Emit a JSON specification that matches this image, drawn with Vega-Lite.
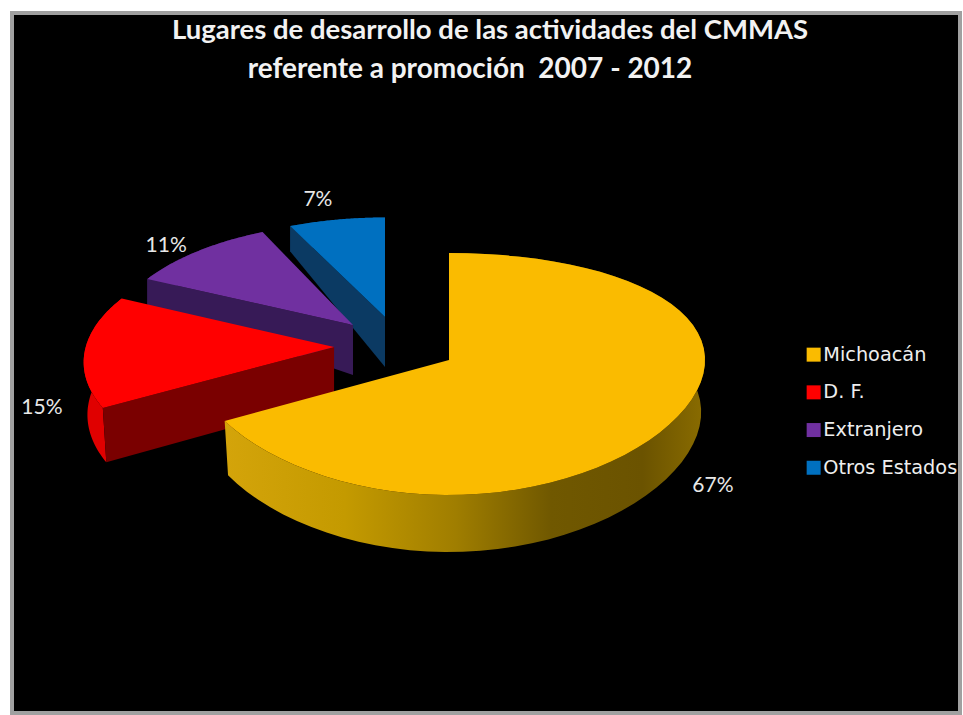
{
  "$schema": "https://vega.github.io/schema/vega-lite/v6.json",
  "autosize": "none",
  "width": 948,
  "height": 700,
  "padding": {"left": 12, "top": 13, "right": 3, "bottom": 2},
  "background": "#ffffff",
  "view": {"fill": "#000000", "stroke": "#a0a0a0", "strokeWidth": 4},
  "title": {
    "text": "Lugares de desarrollo de las actividades del CMMAS",
    "color": "#f2f2f2",
    "font": "Lato",
    "fontWeight": "bold",
    "fontSize": 27.5,
    "anchor": "middle",
    "frame": "group",
    "dx": 4,
    "offset": -31
  },
  "data": {
    "values": [
      {"lugar": "Otros Estados", "pct": 7},
      {"lugar": "Extranjero", "pct": 11},
      {"lugar": "D. F.", "pct": 15},
      {"lugar": "Michoacán", "pct": 67}
    ]
  },
  "transform": [
    {"stack": "pct", "sort": [{"field": "pct", "order": "descending"}], "groupby": [], "as": ["ini", "fin"]},
    {"calculate": "{'Michoacán':0,'D. F.':-0.449,'Extranjero':-0.375,'Otros Estados':-0.25}[datum.lugar]", "as": "ax"},
    {"calculate": "{'Michoacán':0,'D. F.':-0.109,'Extranjero':-0.293,'Otros Estados':-0.36}[datum.lugar]", "as": "ay"},
    {"calculate": "{'Michoacán':1,'D. F.':0.97,'Extranjero':0.94,'Otros Estados':0.985}[datum.lugar]", "as": "sx"},
    {"calculate": "{'Michoacán':0,'D. F.':0.13,'Extranjero':0.13,'Otros Estados':0.13}[datum.lugar]", "as": "kx"},
    {"calculate": "{'Michoacán':1,'D. F.':1,'Extranjero':0.95,'Otros Estados':0.93}[datum.lugar]", "as": "sy"},
    {"calculate": "{'Michoacán':0.4355,'D. F.':0.4355,'Extranjero':0.2345,'Otros Estados':0.251}[datum.lugar]", "as": "dr"},
    {"calculate": "{'Michoacán':0.4355,'D. F.':0.4355,'Extranjero':0.419,'Otros Estados':0.419}[datum.lugar]", "as": "da"},
    {"calculate": "{'Michoacán':0.985,'D. F.':0.985,'Extranjero':1,'Otros Estados':1}[datum.lugar]", "as": "b"}
  ],
  "encoding": {
    "x": {"field": "px", "type": "quantitative", "axis": null, "scale": {"domain": [-1.707, 1.996], "nice": false, "zero": false}},
    "y": {"field": "py", "type": "quantitative", "axis": null, "scale": {"domain": [2.956, -2.906], "nice": false, "zero": false}}
  },
  "layer": [
    {
      "transform": [
        {"filter": "datum.lugar !== 'Michoacán'"},
        {"calculate": "sequence(0,122)", "as": "n"},
        {"flatten": ["n"]},
        {"calculate": "datum.n<=60 ? datum.n/60 : (121-datum.n)/60", "as": "u"},
        {"calculate": "datum.n>60 ? 1 : 0", "as": "z"},
        {"calculate": "2*PI*(datum.ini+datum.u*(datum.fin-datum.ini))/100", "as": "th"},
        {"calculate": "datum.ax+datum.sx*sin(datum.th)*(1-datum.kx*cos(datum.th))*(datum.z?datum.b:1)", "as": "px"},
        {"calculate": "datum.ay-datum.sy*cos(datum.th)/(1+0.1157*cos(datum.th))+(datum.z?datum.dr-0.042*cos(datum.th):0)", "as": "py"},
        {"calculate": "datum.lugar+' pared'", "as": "pieza"}
      ],
      "mark": {"type": "line", "filled": true, "strokeWidth": 0},
      "encoding": {
        "order": {"field": "n", "type": "quantitative"},
        "fill": {
          "field": "pieza",
          "type": "nominal",
          "legend": null,
          "scale": {
            "domain": ["D. F. pared", "Extranjero pared", "Otros Estados pared", "D. F. corte", "Extranjero corte", "Otros Estados corte"],
            "range": ["#e00000", "#371a57", "#0b3a63", "#7a0000", "#371a57", "#0b3a63"]
          }
        }
      }
    },
    {
      "transform": [
        {"filter": "datum.lugar !== 'Michoacán'"},
        {"calculate": "sequence(0,4)", "as": "n"},
        {"flatten": ["n"]},
        {"calculate": "datum.n>=2 ? 1 : 0", "as": "z"},
        {"calculate": "datum.n==0 || datum.n==3 ? 1 : 0", "as": "ap"},
        {"calculate": "2*PI*datum.ini/100", "as": "th"},
        {"calculate": "datum.ax+(datum.ap?0:datum.sx*sin(datum.th)*(1-datum.kx*cos(datum.th))*(datum.z?datum.b:1))", "as": "px"},
        {"calculate": "datum.ay+(datum.ap?0:-datum.sy*cos(datum.th)/(1+0.1157*cos(datum.th)))+(datum.z?(datum.ap?datum.da:datum.dr-0.042*cos(datum.th)):0)", "as": "py"},
        {"calculate": "datum.lugar+' corte'", "as": "pieza"}
      ],
      "mark": {"type": "line", "filled": true, "strokeWidth": 0},
      "encoding": {
        "order": {"field": "n", "type": "quantitative"},
        "fill": {
          "field": "pieza",
          "type": "nominal",
          "legend": null,
          "scale": {
            "domain": ["D. F. pared", "Extranjero pared", "Otros Estados pared", "D. F. corte", "Extranjero corte", "Otros Estados corte"],
            "range": ["#e00000", "#371a57", "#0b3a63", "#7a0000", "#371a57", "#0b3a63"]
          }
        }
      }
    },
    {
      "transform": [
        {"filter": "datum.lugar === 'Michoacán'"},
        {"calculate": "sequence(0,122)", "as": "n"},
        {"flatten": ["n"]},
        {"calculate": "datum.n<=60 ? datum.n/60 : (121-datum.n)/60", "as": "u"},
        {"calculate": "datum.n>60 ? 1 : 0", "as": "z"},
        {"calculate": "2*PI*(datum.ini+datum.u*(datum.fin-datum.ini))/100", "as": "th"},
        {"calculate": "datum.ax+datum.sx*sin(datum.th)*(1-datum.kx*cos(datum.th))*(datum.z?datum.b:1)", "as": "px"},
        {"calculate": "datum.ay-datum.sy*cos(datum.th)/(1+0.1157*cos(datum.th))+(datum.z?datum.dr-0.042*cos(datum.th):0)", "as": "py"}
      ],
      "mark": {
        "type": "line",
        "filled": true,
        "strokeWidth": 0,
        "fill": {
          "gradient": "linear",
          "x1": 0, "y1": 0, "x2": 1, "y2": 0,
          "stops": [
            {"offset": 0, "color": "#d4a40a"},
            {"offset": 0.25, "color": "#c49a00"},
            {"offset": 0.48, "color": "#a07e00"},
            {"offset": 0.68, "color": "#705800"},
            {"offset": 0.87, "color": "#6b5300"},
            {"offset": 1, "color": "#8a6c00"}
          ]
        }
      },
      "encoding": {
        "order": {"field": "n", "type": "quantitative"}
      }
    },
    {
      "transform": [
        {"calculate": "sequence(0,62)", "as": "n"},
        {"flatten": ["n"]},
        {"calculate": "(datum.n-1)/60", "as": "u"},
        {"calculate": "2*PI*(datum.ini+datum.u*(datum.fin-datum.ini))/100", "as": "th"},
        {"calculate": "datum.ax+(datum.n==0?0:datum.sx*sin(datum.th)*(1-datum.kx*cos(datum.th)))", "as": "px"},
        {"calculate": "datum.ay+(datum.n==0?0:-datum.sy*cos(datum.th)/(1+0.1157*cos(datum.th)))", "as": "py"}
      ],
      "mark": {"type": "line", "filled": true, "strokeWidth": 0},
      "encoding": {
        "order": {"field": "n", "type": "quantitative"},
        "color": {
          "field": "lugar",
          "type": "nominal",
          "scale": {
            "domain": ["Michoacán", "D. F.", "Extranjero", "Otros Estados"],
            "range": ["#fabb00", "#ff0000", "#7030a0", "#0070c0"]
          },
          "legend": {
            "title": null,
            "orient": "none",
            "legendX": 792,
            "legendY": 332,
            "symbolType": "square",
            "symbolSize": 196,
            "symbolStrokeWidth": 0,
            "labelColor": "#eeeeee",
            "labelFont": "DejaVu Sans",
            "labelFontSize": 19.3,
            "labelOffset": 0,
            "rowPadding": 17.7,
            "labelLimit": 200
          }
        }
      }
    },
    {
      "transform": [
        {"calculate": "{'Michoacán':1.031,'D. F.':-1.59,'Extranjero':-1.105,'Otros Estados':-0.512}[datum.lugar]", "as": "px"},
        {"calculate": "{'Michoacán':1.055,'D. F.':0.402,'Extranjero':-0.955,'Otros Estados':-1.34}[datum.lugar]", "as": "py"},
        {"calculate": "datum.pct+'%'", "as": "etiqueta"}
      ],
      "mark": {"type": "text", "font": "Lato", "fontSize": 21, "color": "#e8e8e8", "align": "center", "baseline": "middle"},
      "encoding": {
        "text": {"field": "etiqueta", "type": "nominal"}
      }
    },
    {
      "transform": [
        {"filter": "datum.lugar === 'Michoacán'"},
        {"calculate": "0.082", "as": "px"},
        {"calculate": "-2.43", "as": "py"},
        {"calculate": "'referente a promoción\u00a0\u00a02007 - 2012'", "as": "linea"}
      ],
      "mark": {"type": "text", "font": "Lato", "fontWeight": "bold", "fontSize": 28, "color": "#f2f2f2", "align": "center", "baseline": "middle"},
      "encoding": {
        "text": {"field": "linea", "type": "nominal"}
      }
    }
  ]
}
